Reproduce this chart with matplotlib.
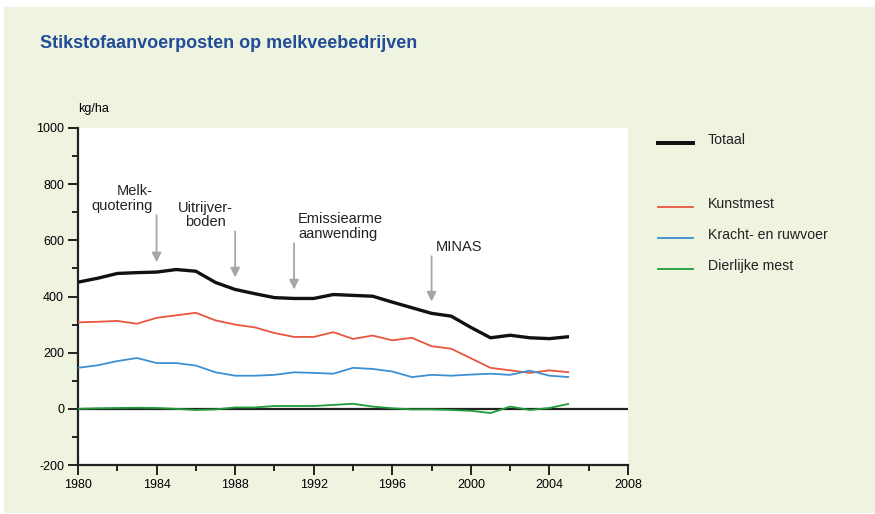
import matplotlib
matplotlib.use("Agg")
import matplotlib.pyplot as plt
from matplotlib.lines import Line2D
from matplotlib.patches import Rectangle
from matplotlib.ticker import MultipleLocator

# gegevens (kg N per ha)
jaren = list(range(1980, 2006))
totaal = [451, 465, 482, 485, 487, 496, 490, 450, 425, 410, 396, 393, 393,
          407, 404, 401, 380, 360, 340, 330, 290, 253, 262, 253, 250, 257]
kunstmest = [308, 310, 313, 303, 324, 333, 342, 315, 300, 290, 270, 256, 256,
             273, 249, 261, 244, 253, 223, 214, 180, 146, 137, 128, 137, 130]
krachtvoer = [146, 155, 170, 181, 163, 163, 154, 130, 118, 118, 121, 130, 128,
              125, 146, 142, 133, 113, 121, 118, 122, 125, 121, 136, 118, 113]
dierlijk = [0, 2, 3, 4, 3, 0, -4, -2, 5, 5, 10, 10, 10,
            14, 18, 8, 2, -2, -2, -4, -7, -15, 8, -4, 3, 18]

series = [
    ("Totaal", totaal, "#111111", 2.4),
    ("Kunstmest", kunstmest, "#e9553f", 1.3),
    ("Kracht- en ruwvoer", krachtvoer, "#3d8fd1", 1.3),
    ("Dierlijke mest", dierlijk, "#1f9b3c", 1.3),
]

# gebeurtenissen: (tekst, jaar, pijl van, pijl tot, uitlijning)
gebeurtenissen = [
    ("Melk-\nquotering", 1984, 690, 522, "right"),
    ("Uitrijver-\nboden", 1988, 632, 468, "center"),
    ("Emissiearme\naanwending", 1991, 590, 425, "left"),
    ("MINAS", 1998, 543, 382, "left"),
]

W, H = 875, 514
plt.rcParams["font.family"] = ["Liberation Sans", "DejaVu Sans"]
plt.rcParams["axes.unicode_minus"] = False

fig = plt.figure(figsize=(W / 100, H / 100), dpi=100, facecolor="white")
fig.patches.append(Rectangle((4 / W, 1 / H), 1, 1 - 8 / H, transform=fig.transFigure,
                             facecolor="#eff4e1", edgecolor="none", zorder=-10))

ax = fig.add_axes([78 / W, 1 - 465 / H, 550 / W, 337 / H])
ax.set_facecolor("white")

for naam, waarden, kleur, lw in series:
    ax.plot(jaren, waarden, color=kleur, lw=lw, solid_capstyle="butt", zorder=3)

ax.axhline(0, color="#222222", lw=1.6, zorder=2)

ax.set_xlim(1980, 2008)
ax.set_ylim(-200, 1000)
ax.xaxis.set_major_locator(MultipleLocator(4))
ax.xaxis.set_minor_locator(MultipleLocator(2))
ax.yaxis.set_major_locator(MultipleLocator(200))
ax.yaxis.set_minor_locator(MultipleLocator(100))
for s in ["top", "right"]:
    ax.spines[s].set_visible(False)
for s in ["left", "bottom"]:
    ax.spines[s].set_linewidth(1.6)
    ax.spines[s].set_color("#222222")
ax.tick_params(which="major", length=7, width=1.4, color="#222222",
               labelsize=9, pad=3)
ax.tick_params(which="minor", length=4, width=1.4, color="#222222")

# pijlen en teksten
for tekst, jaar, van, tot, ha in gebeurtenissen:
    ax.annotate("", xy=(jaar, tot), xytext=(jaar, van),
                arrowprops=dict(arrowstyle="-|>", color="#a6a6a6", lw=1.3,
                                mutation_scale=14, shrinkA=0, shrinkB=0))
    if ha == "right":
        tx = jaar - 0.2
    elif ha == "center":
        tx = jaar - 1.5
    else:
        tx = jaar + 0.2
    ax.text(tx, van + 8, tekst, ha=ha, va="bottom", fontsize=10.5,
            linespacing=1.05, color="#222222")

ax.text(1980, 1045, "kg/ha", fontsize=9, ha="left", va="bottom")

fig.text(40 / W, 1 - 43 / H, "Stikstofaanvoerposten op melkveebedrijven",
         fontsize=13, fontweight="bold", color="#214d97", va="center")

# legenda
leg_y = [143, 207, 238, 269]
for (naam, waarden, kleur, lw), yy in zip(series, leg_y):
    fig.add_artist(Line2D([658 / W, 693 / W], [1 - yy / H, 1 - yy / H],
                          color=kleur, lw=lw * 1.2 if naam == "Totaal" else lw))
    fig.text(708 / W, 1 - (yy - 3) / H, naam, fontsize=10.2, va="center",
             color="#222222")

fig.savefig("out.png", dpi=100, facecolor=fig.get_facecolor())
